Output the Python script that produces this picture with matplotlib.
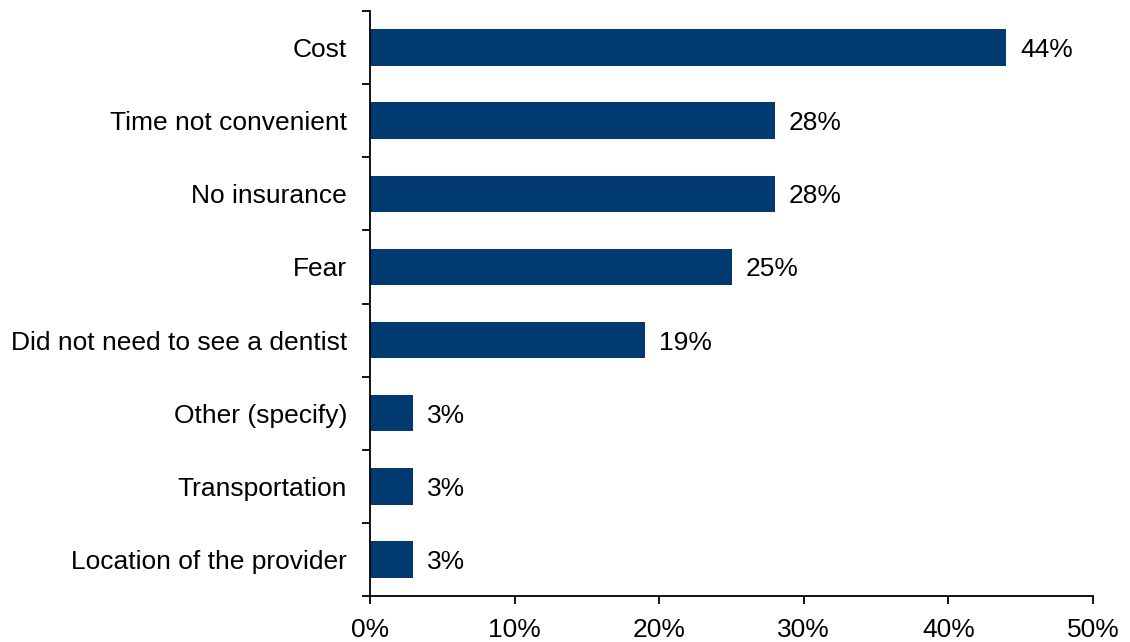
import numpy as np
from matplotlib import pyplot as plt
from matplotlib.ticker import FixedLocator

categories = ['Cost', 'Time not convenient', 'No insurance', 'Fear',
              'Did not need to see a dentist', 'Other (specify)',
              'Transportation', 'Location of the provider']
values = [44, 28, 28, 25, 19, 3, 3, 3]
xticks = [0, 10, 20, 30, 40, 50]

plt.rcParams['font.family'] = ['Liberation Sans', 'DejaVu Sans']
fs = 19

fig = plt.figure(figsize=[11.3, 6.42], dpi=100, facecolor='white')
ax = fig.add_axes([370/1130, 1-596/642, (1093-370)/1130, (596-11)/642])

y = np.arange(len(categories))
ax.barh(y, values, height=0.5, color='#003A70')

for yi, v in zip(y, values):
    ax.annotate(f'{v}%', (v, yi), xytext=(10, 0), textcoords='offset points',
                va='center_baseline', ha='left', fontsize=fs, color='black')

ax.set_ylim(len(categories) - 0.5, -0.5)
ax.set_xlim(0, 50)
ax.set_xticks(xticks)
ax.set_xticklabels([f'{t}%' for t in xticks], fontsize=fs)
ax.set_yticks(y)
ax.set_yticklabels(categories, fontsize=fs)
ax.yaxis.set_minor_locator(FixedLocator(np.arange(-0.5, len(categories), 1)))
ax.tick_params(axis='y', which='major', length=0, pad=16.5)
ax.tick_params(axis='y', which='minor', length=6, width=1.3, direction='out')
ax.tick_params(axis='x', which='major', length=6, width=1.3, direction='out', pad=10)

for s in ['top', 'right']:
    ax.spines[s].set_visible(False)
for s in ['left', 'bottom']:
    ax.spines[s].set_linewidth(1.3)

fig.savefig('out.png', dpi=100, facecolor='white')
